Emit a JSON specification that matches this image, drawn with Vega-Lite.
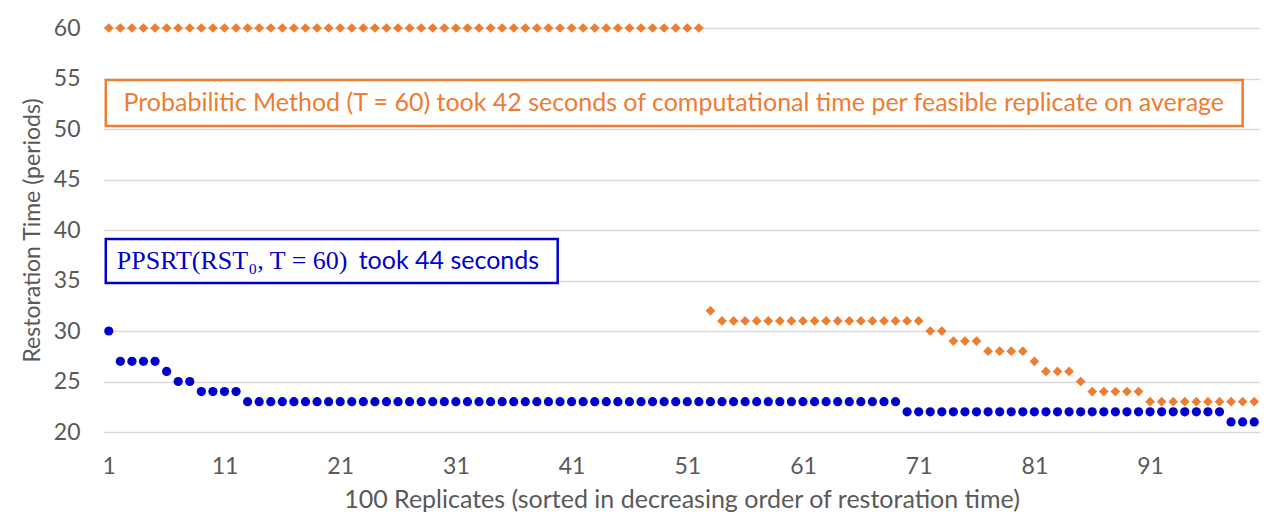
{
  "$schema": "https://vega.github.io/schema/vega-lite/v6.json",
  "width": 1157,
  "height": 404,
  "autosize": {"type": "none"},
  "padding": {"left": 103, "top": 28, "right": 20, "bottom": 96},
  "background": "white",
  "config": {
    "view": {"stroke": null},
    "font": "Lato",
    "axis": {"labelFont": "Lato", "titleFont": "Lato", "labelColor": "#595959", "titleColor": "#595959", "labelFontSize": 23, "titleFontSize": 23, "titleFontWeight": "normal", "gridColor": "#D9D9D9", "gridWidth": 1.3, "domain": false, "ticks": false}
  },
  "datasets": {
    "pts": [
      {"r":1,"Probabilistic":60,"PPSRT":30},{"r":2,"Probabilistic":60,"PPSRT":27},{"r":3,"Probabilistic":60,"PPSRT":27},{"r":4,"Probabilistic":60,"PPSRT":27},{"r":5,"Probabilistic":60,"PPSRT":27},
      {"r":6,"Probabilistic":60,"PPSRT":26},{"r":7,"Probabilistic":60,"PPSRT":25},{"r":8,"Probabilistic":60,"PPSRT":25},{"r":9,"Probabilistic":60,"PPSRT":24},{"r":10,"Probabilistic":60,"PPSRT":24},
      {"r":11,"Probabilistic":60,"PPSRT":24},{"r":12,"Probabilistic":60,"PPSRT":24},{"r":13,"Probabilistic":60,"PPSRT":23},{"r":14,"Probabilistic":60,"PPSRT":23},{"r":15,"Probabilistic":60,"PPSRT":23},
      {"r":16,"Probabilistic":60,"PPSRT":23},{"r":17,"Probabilistic":60,"PPSRT":23},{"r":18,"Probabilistic":60,"PPSRT":23},{"r":19,"Probabilistic":60,"PPSRT":23},{"r":20,"Probabilistic":60,"PPSRT":23},
      {"r":21,"Probabilistic":60,"PPSRT":23},{"r":22,"Probabilistic":60,"PPSRT":23},{"r":23,"Probabilistic":60,"PPSRT":23},{"r":24,"Probabilistic":60,"PPSRT":23},{"r":25,"Probabilistic":60,"PPSRT":23},
      {"r":26,"Probabilistic":60,"PPSRT":23},{"r":27,"Probabilistic":60,"PPSRT":23},{"r":28,"Probabilistic":60,"PPSRT":23},{"r":29,"Probabilistic":60,"PPSRT":23},{"r":30,"Probabilistic":60,"PPSRT":23},
      {"r":31,"Probabilistic":60,"PPSRT":23},{"r":32,"Probabilistic":60,"PPSRT":23},{"r":33,"Probabilistic":60,"PPSRT":23},{"r":34,"Probabilistic":60,"PPSRT":23},{"r":35,"Probabilistic":60,"PPSRT":23},
      {"r":36,"Probabilistic":60,"PPSRT":23},{"r":37,"Probabilistic":60,"PPSRT":23},{"r":38,"Probabilistic":60,"PPSRT":23},{"r":39,"Probabilistic":60,"PPSRT":23},{"r":40,"Probabilistic":60,"PPSRT":23},
      {"r":41,"Probabilistic":60,"PPSRT":23},{"r":42,"Probabilistic":60,"PPSRT":23},{"r":43,"Probabilistic":60,"PPSRT":23},{"r":44,"Probabilistic":60,"PPSRT":23},{"r":45,"Probabilistic":60,"PPSRT":23},
      {"r":46,"Probabilistic":60,"PPSRT":23},{"r":47,"Probabilistic":60,"PPSRT":23},{"r":48,"Probabilistic":60,"PPSRT":23},{"r":49,"Probabilistic":60,"PPSRT":23},{"r":50,"Probabilistic":60,"PPSRT":23},
      {"r":51,"Probabilistic":60,"PPSRT":23},{"r":52,"Probabilistic":60,"PPSRT":23},{"r":53,"Probabilistic":32,"PPSRT":23},{"r":54,"Probabilistic":31,"PPSRT":23},{"r":55,"Probabilistic":31,"PPSRT":23},
      {"r":56,"Probabilistic":31,"PPSRT":23},{"r":57,"Probabilistic":31,"PPSRT":23},{"r":58,"Probabilistic":31,"PPSRT":23},{"r":59,"Probabilistic":31,"PPSRT":23},{"r":60,"Probabilistic":31,"PPSRT":23},
      {"r":61,"Probabilistic":31,"PPSRT":23},{"r":62,"Probabilistic":31,"PPSRT":23},{"r":63,"Probabilistic":31,"PPSRT":23},{"r":64,"Probabilistic":31,"PPSRT":23},{"r":65,"Probabilistic":31,"PPSRT":23},
      {"r":66,"Probabilistic":31,"PPSRT":23},{"r":67,"Probabilistic":31,"PPSRT":23},{"r":68,"Probabilistic":31,"PPSRT":23},{"r":69,"Probabilistic":31,"PPSRT":23},{"r":70,"Probabilistic":31,"PPSRT":22},
      {"r":71,"Probabilistic":31,"PPSRT":22},{"r":72,"Probabilistic":30,"PPSRT":22},{"r":73,"Probabilistic":30,"PPSRT":22},{"r":74,"Probabilistic":29,"PPSRT":22},{"r":75,"Probabilistic":29,"PPSRT":22},
      {"r":76,"Probabilistic":29,"PPSRT":22},{"r":77,"Probabilistic":28,"PPSRT":22},{"r":78,"Probabilistic":28,"PPSRT":22},{"r":79,"Probabilistic":28,"PPSRT":22},{"r":80,"Probabilistic":28,"PPSRT":22},
      {"r":81,"Probabilistic":27,"PPSRT":22},{"r":82,"Probabilistic":26,"PPSRT":22},{"r":83,"Probabilistic":26,"PPSRT":22},{"r":84,"Probabilistic":26,"PPSRT":22},{"r":85,"Probabilistic":25,"PPSRT":22},
      {"r":86,"Probabilistic":24,"PPSRT":22},{"r":87,"Probabilistic":24,"PPSRT":22},{"r":88,"Probabilistic":24,"PPSRT":22},{"r":89,"Probabilistic":24,"PPSRT":22},{"r":90,"Probabilistic":24,"PPSRT":22},
      {"r":91,"Probabilistic":23,"PPSRT":22},{"r":92,"Probabilistic":23,"PPSRT":22},{"r":93,"Probabilistic":23,"PPSRT":22},{"r":94,"Probabilistic":23,"PPSRT":22},{"r":95,"Probabilistic":23,"PPSRT":22},
      {"r":96,"Probabilistic":23,"PPSRT":22},{"r":97,"Probabilistic":23,"PPSRT":22},{"r":98,"Probabilistic":23,"PPSRT":21},{"r":99,"Probabilistic":23,"PPSRT":21},{"r":100,"Probabilistic":23,"PPSRT":21}
    ],
    "boxes": [
      {"x1": 0.74, "x2": 99.0, "y1": 54.85, "y2": 50.3, "c": "#ED7D31"},
      {"x1": 0.74, "x2": 39.8, "y1": 39.1, "y2": 34.75, "c": "#0000CC"}
    ],
    "otext": [
      {"x": 49.83, "y": 52.55, "t": "Probabilitic Method (T = 60) took 42 seconds of computational time per feasible replicate on average", "c": "#ED7D31"}
    ],
    "btext": [
      {"x": 22.6, "y": 36.95, "t": "took 44 seconds", "c": "#0000CC"}
    ],
    "serif": [
      {"x": 1.69, "y": 36.95, "t": "PPSRT(RST₀, T = 60)", "c": "#0000CC"}
    ]
  },
  "layer": [
    {
      "data": {"name": "pts"},
      "transform": [{"fold": ["Probabilistic", "PPSRT"], "as": ["method", "time"]}],
      "mark": {"type": "point", "filled": true, "opacity": 1},
      "encoding": {
        "x": {"field": "r", "type": "quantitative", "scale": {"domain": [0.5, 100.5], "nice": false, "zero": false},
              "axis": {"values": [1, 11, 21, 31, 41, 51, 61, 71, 81, 91], "grid": false, "labelPadding": 23, "title": "100 Replicates (sorted in decreasing order of restoration time)", "titleFontSize": 25, "titlePadding": 9}},
        "y": {"field": "time", "type": "quantitative", "scale": {"domain": [20, 60], "nice": false, "zero": false},
              "axis": {"values": [20, 25, 30, 35, 40, 45, 50, 55, 60], "labelPadding": 23, "title": "Restoration Time (periods)", "titlePadding": 9}},
        "color": {"field": "method", "type": "nominal", "scale": {"domain": ["Probabilistic", "PPSRT"], "range": ["#ED7D31", "#0000CC"]}, "legend": null},
        "shape": {"field": "method", "type": "nominal", "scale": {"domain": ["Probabilistic", "PPSRT"], "range": ["diamond", "circle"]}, "legend": null},
        "size": {"field": "method", "type": "nominal", "scale": {"domain": ["Probabilistic", "PPSRT"], "range": [95, 85]}, "legend": null}
      }
    },
    {
      "data": {"name": "boxes"},
      "mark": {"type": "rect", "fill": "white", "strokeWidth": 2.5},
      "encoding": {
        "x": {"field": "x1", "type": "quantitative"},
        "x2": {"field": "x2"},
        "y": {"field": "y1", "type": "quantitative"},
        "y2": {"field": "y2"},
        "stroke": {"field": "c", "type": "nominal", "scale": null}
      }
    },
    {
      "data": {"name": "otext"},
      "mark": {"type": "text", "font": "Lato", "fontSize": 25, "baseline": "middle", "align": "center"},
      "encoding": {
        "x": {"field": "x", "type": "quantitative"},
        "y": {"field": "y", "type": "quantitative"},
        "text": {"field": "t"},
        "color": {"field": "c", "type": "nominal", "scale": null}
      }
    },
    {
      "data": {"name": "btext"},
      "mark": {"type": "text", "font": "Lato", "fontSize": 25, "baseline": "middle", "align": "left"},
      "encoding": {
        "x": {"field": "x", "type": "quantitative"},
        "y": {"field": "y", "type": "quantitative"},
        "text": {"field": "t"},
        "color": {"field": "c", "type": "nominal", "scale": null}
      }
    },
    {
      "data": {"name": "serif"},
      "mark": {"type": "text", "font": "Liberation Serif", "fontSize": 26, "baseline": "middle", "align": "left"},
      "encoding": {
        "x": {"field": "x", "type": "quantitative"},
        "y": {"field": "y", "type": "quantitative"},
        "text": {"field": "t"},
        "color": {"field": "c", "type": "nominal", "scale": null}
      }
    }
  ]
}
